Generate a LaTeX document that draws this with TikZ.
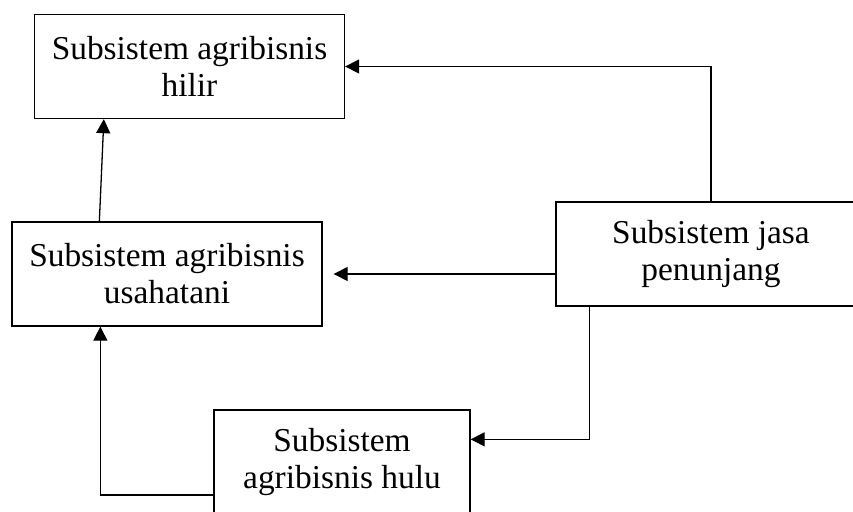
\documentclass[tikz,border=0pt]{standalone}
\usepackage{fontspec}
\setmainfont{Liberation Serif}
\usetikzlibrary{arrows.meta,positioning,calc}

\begin{document}
\begin{tikzpicture}[
  x=0.03cm, y=-0.03cm, >={Triangle[length=12pt,width=12pt]},
  font=\fontsize{28.5}{31.5}\selectfont, line width=1.1pt,
  sub/.style={draw, align=center, inner sep=0pt, minimum width=9.3cm, minimum height=3.12cm},
]
\clip (0,0) rectangle (853,511);
\node[sub] (hilir) at (189.5,66.5) {Subsistem agribisnis\\ hilir};
\node[sub] (usaha) at (167,274) {Subsistem agribisnis\\ usahatani};
\node[sub] (jasa) at (711,254) {Subsistem jasa\\ penunjang};
\node[sub, minimum width=7.68cm] (hulu) at (342,462) {Subsistem\\ agribisnis hulu};

\draw[->] ([xshift=2.64cm]usaha.north west) -- ([xshift=2.1cm]hilir.south west);
\draw[->] (jasa.north) |- (hilir.east);
\draw[->, shorten >=0.33cm] (jasa.west |- usaha.east) -- (usaha.east);
\draw[->] ([xshift=1.02cm]jasa.south west) |- ([yshift=-0.9cm]hulu.north east);
\draw[->] ([yshift=-0.99cm]hulu.west) -| ([xshift=2.67cm]usaha.south west);
\end{tikzpicture}
\end{document}
